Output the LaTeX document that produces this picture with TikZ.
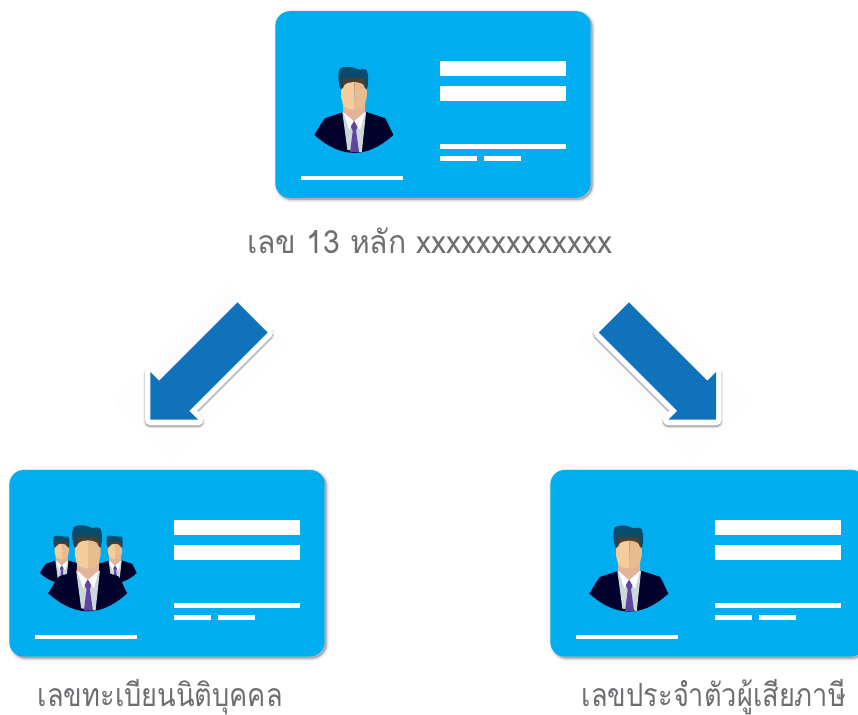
\documentclass[tikz,border=0pt]{standalone}
\usepackage{fontspec}
\newfontfamily\thaifont[Script=Thai,FakeStretch=0.94]{Loma}
\newfontfamily\thainarrow[Script=Thai,FakeStretch=0.85]{Loma}
\usetikzlibrary{shapes,shapes.arrows,shadows}
\definecolor{cardblue}{HTML}{00AEEF}
\definecolor{arrowblue}{HTML}{1072BA}
\definecolor{textgray}{HTML}{6D6E71}
\definecolor{suitdark}{HTML}{01012B}
\definecolor{shirtgray}{HTML}{CBD8DA}
\definecolor{skinlight}{HTML}{F5CD9B}
\definecolor{skindark}{HTML}{E9BC8F}
\definecolor{neckskin}{HTML}{E2B39B}
\definecolor{hairblue}{HTML}{0A4A6B}
\definecolor{hairbrown}{HTML}{4B3F30}
\definecolor{tiepurple}{HTML}{6044A0}
\tikzset{
  cardbars/.pic={
    \fill[white] (165,-50) rectangle (291,-65);
    \fill[white] (165,-75) rectangle (291,-90);
    \fill[white] (165,-133) rectangle (291,-138);
    \fill[white] (165,-145) rectangle (202,-150);
    \fill[white] (209,-145) rectangle (246,-150);
    \fill[white] (26,-165) rectangle (128,-169);
  },
  person/.pic={
    %Suit
    \fill[suitdark] (-39.7,18) .. controls (-37,22) and (-33,30) .. (-29,34.7) -- (-11,40.7) -- (13,40.7) -- (31,34.7) .. controls (34,30) and (37,22) .. (39.3,18) .. controls (25,5) and (12,0) .. (0,0) .. controls (-12,0) and (-25,5) .. (-39.7,18) -- cycle;
    %Shirt and tie
    \fill[shirtgray] (-11.7,40.7) -- (12,40.7) -- (7.7,0.7) -- (-6.7,3) -- cycle;
    \fill[neckskin] (-11,52) -- (11,52) -- (11,41) -- (0,31) -- (-11,41) -- cycle;
    \fill[white] (-10.7,40.7) -- (0,31.3) -- (-4.7,23) -- cycle;
    \fill[white] (11,40.7) -- (0,31.3) -- (6,23) -- cycle;
    \fill[tiepurple] (0,32) -- (3.3,26.3) -- (2,22) -- (5,0.7) -- (-4,0.7) -- (-1.3,22) -- (-3.3,26.3) -- cycle;
    %Hair
    \fill[hairblue, rounded corners=2.5pt] (-13.3,62) -- (-15.7,72) -- (-15.7,82) -- (-12.3,86) -- (-2.3,86) -- (6,82.5) -- (11,85) -- (14,80) -- (14,68) -- (12.5,62) -- cycle;
    \fill[hairbrown] (-13,62) -- (-10.5,74.7) -- (10,74.7) -- (12.5,62) -- cycle;
    %Face
    \fill[skinlight] (0.3,71) -- (-6,70) .. controls (-9,69) and (-10,68) .. (-11,65) -- (-13,63) -- (-13,56) -- (-11,48) .. controls (-9,45) and (-6,43.7) .. (0.3,43) -- cycle;
    \fill[skindark] (0.3,71) -- (6,70) .. controls (9,69) and (10,68) .. (10.7,65) -- (12.7,63) -- (12.7,56) -- (10.7,48) .. controls (9,45) and (6,43.7) .. (0.3,43) -- cycle;
  }
}

\begin{document}
\begin{tikzpicture}[x=0.75pt,y=0.75pt]
    \tikzstyle{idcard} = [fill=cardblue, shape=rectangle, rounded corners=11pt, minimum width=236.5pt, minimum height=140pt, inner sep=0pt, drop shadow={shadow xshift=1.3pt, shadow yshift=-1.3pt, opacity=.05, fill=black, draw=black, line width=4pt}, drop shadow={shadow xshift=1.3pt, shadow yshift=-1.3pt, opacity=.07, fill=black, draw=black, line width=2.5pt}, drop shadow={shadow xshift=1.3pt, shadow yshift=-1.3pt, opacity=.1, fill=black, draw=black, line width=1pt}]
    \tikzstyle{caption} = [text=textgray, font=\fontsize{24pt}{28pt}\selectfont, node distance=103pt, inner sep=0pt]
    \tikzstyle{halo} = [fill=black!0.7, shape=rectangle, minimum width=124.5pt, minimum height=61.5pt, inner sep=0pt]
    \tikzstyle{arrowshadow} = [drop shadow={shadow xshift=0pt, shadow yshift=-1.3pt, opacity=.1, fill=black, draw=black, line width=10pt, line join=round}, drop shadow={shadow xshift=0pt, shadow yshift=-1.3pt, opacity=.2, fill=black, draw=black, line width=8.5pt, line join=round}]
    \tikzstyle{bigarrow} = [fill=arrowblue, shape=single arrow, single arrow tip angle=90, single arrow head extend=9.4pt, minimum height=108.5pt, inner xsep=0pt, inner ysep=15.75pt, anchor=tip, preaction={draw=white, line width=8.25pt, line join=round}]
    \useasboundingbox (0,0) rectangle (858,715);
    \clip (0,0) rectangle (858,715);

    %Creating Cards and Captions
    \node [idcard] (id_top) at (433,610.5) {};
    \node [idcard] (id_left) at (167,151.8) {};
    \node [idcard] (id_right) at (708,151.8) {};
    \node [caption, below of=id_top, xshift=-2.5pt, yshift=0.75pt] (caption_top) {\thaifont เลข 13 หลัก xxxxxxxxxxxxx};
    \node [caption, below of=id_left, xshift=-5pt, yshift=2.25pt] (caption_left) {\thainarrow เลขทะเบียนนิติบุคคล};
    \node [caption, below of=id_right, xshift=4.5pt, yshift=2.25pt] (caption_right) {\thainarrow เลขประจำตัวผู้เสียภาษี};

    %Filling Cards
    \pic at (id_top.north west) {cardbars};
    \pic at (id_left.north west) {cardbars};
    \pic at (id_right.north west) {cardbars};
    \path (id_top.north west) ++(79,-142) pic {person};
    \path (id_right.north west) ++(79,-142) pic {person};
    \path (id_left.north west) ++(52.7,-113.3) pic[scale=.55] {person};
    \path (id_left.north west) ++(106,-113.3) pic[scale=.55] {person};
    \path (id_left.north west) ++(78.8,-141.7) pic {person};

    %Creating Arrows
    \node [halo, rotate=45] (halo_left) at (201,343) {};
    \node [halo, rotate=-45] (halo_right) at (665,343) {};
    \node [arrowshadow, bigarrow, rotate=225] (arrow_left) at (150,295) {};
    \node [arrowshadow, bigarrow, rotate=-45] (arrow_right) at (716.5,295) {};
\end{tikzpicture}
\end{document}
